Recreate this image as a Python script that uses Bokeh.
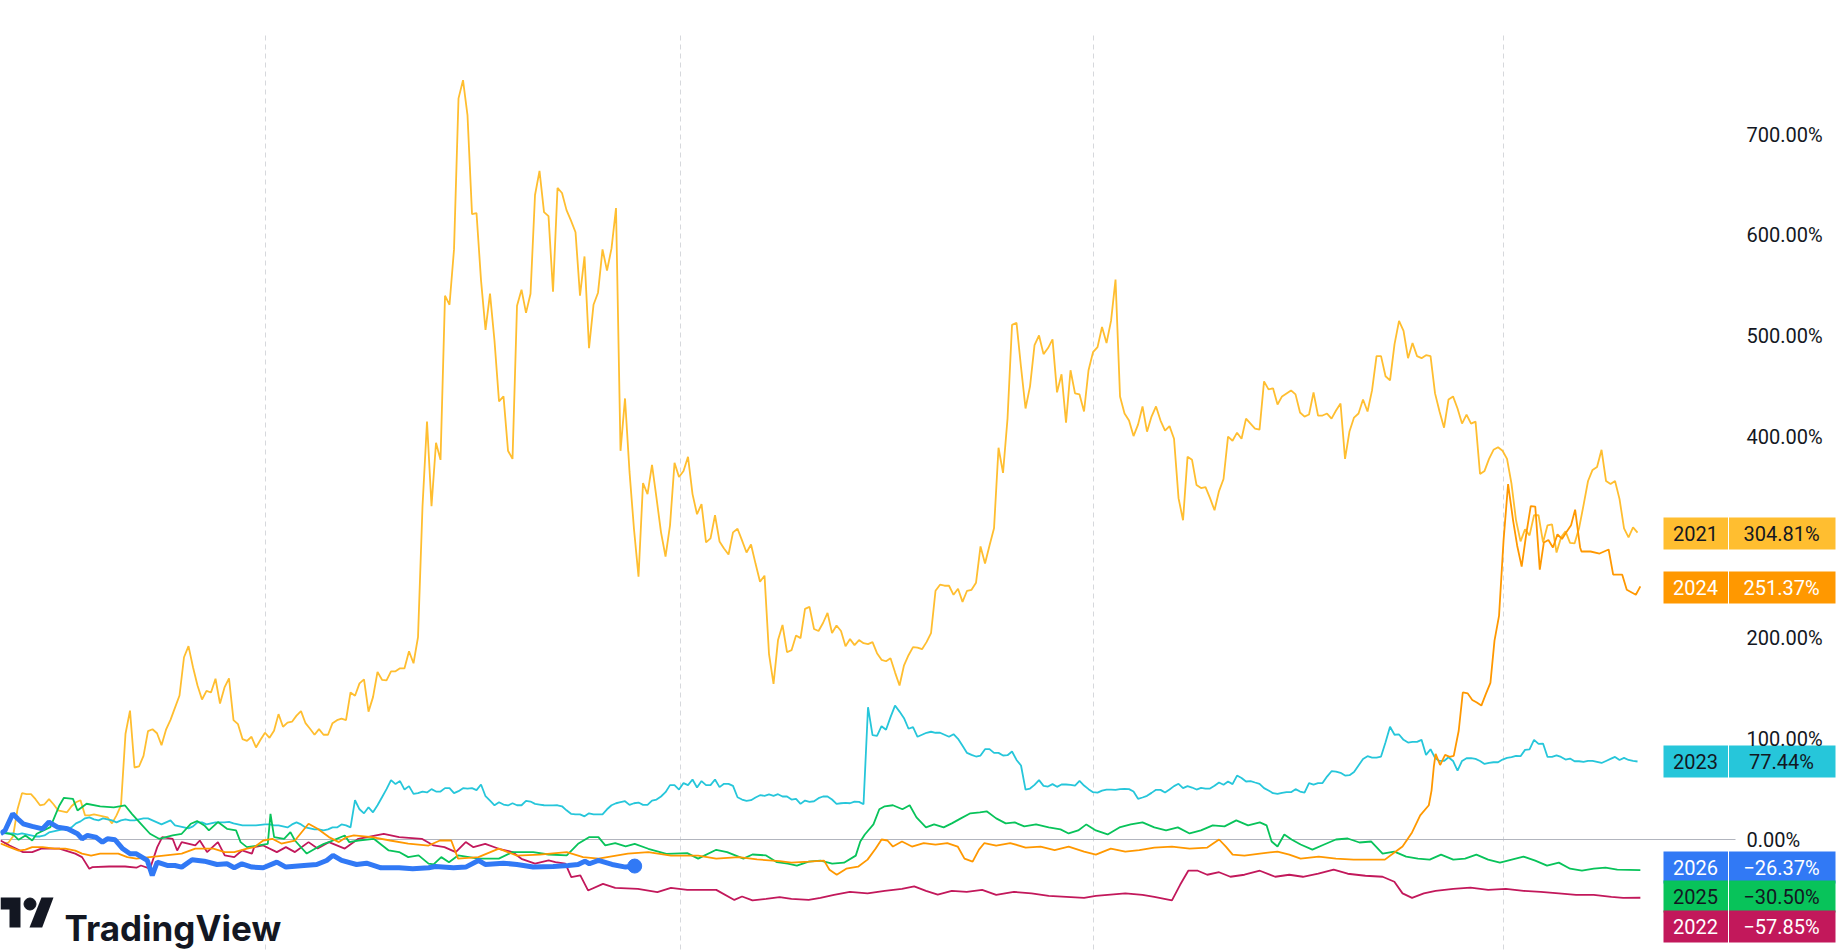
from bokeh.core.properties import value
from bokeh.embed import file_html
from bokeh.models import FixedTicker, PrintfTickFormatter, Range1d
from bokeh.plotting import figure
from bokeh.resources import INLINE
import numpy as np

# values, percent change per year
vals_2021 = [-4, -3, 3, 30, 46, 45, 45, 40, 34, 35, 40, 35, 29, 28, 27, 33, 37, 39, 24, 24,
             25, 24, 23, 22, 16, 24, 34, 105, 128, 71.5, 72.5, 83, 107.6, 109.5, 105.5, 93.7, 109, 118.8, 131, 143,
             181, 192, 171, 153, 139, 147.6, 146, 159.6, 135, 151, 160, 118.5, 114.5, 99.7, 98, 102, 91.4, 99, 106, 101,
             108, 124.5, 112, 116, 117, 123, 127.5, 115.5, 110, 104, 109.6, 104, 104, 115.5, 118.5, 120, 118.5, 146, 142.7, 155,
             159, 127, 141.4, 166.5, 158.6, 158, 167, 167, 170, 170, 187, 175, 201,
             331, 415, 331, 394, 377, 540, 531, 586, 736, 754, 719, 621, 622, 555.5, 506, 542, 495, 435, 440, 386, 378,
             530, 546, 523, 542, 640, 664, 623, 619, 544, 647, 642, 625, 614.5, 603, 540, 579, 488, 531, 543, 586, 565, 587, 627,
             386, 438, 365, 308, 261, 354, 343, 372, 339, 305, 281, 312, 374, 360, 366, 380, 343, 323,
             333, 295, 299, 322, 296, 289, 283, 305, 308.6, 297, 285, 293, 274, 256, 262,
             184, 154.6, 198, 213, 186, 188, 202.5, 200, 229, 231, 209, 207, 215, 225, 205, 212.5, 207, 192, 199, 193,
             198, 195, 194, 196, 185, 178.4, 177, 180, 166, 153, 173, 183, 191, 190.6, 189, 196, 205,
             247, 253, 252, 252, 243, 249, 236, 247, 248, 255, 291, 274, 292, 309, 389, 364, 418, 511, 513, 469,
             428, 450, 491, 500.5, 482, 488, 496.6, 444, 462, 414, 466, 443, 442, 425, 466, 484, 489, 509, 493, 515,
             556, 440, 423, 416, 400.6, 412, 430, 405, 420, 430, 416, 406, 410.5, 398, 339, 317, 380, 377, 352, 349,
             350, 339, 327, 346, 358, 400, 396, 404, 398, 418, 413, 408, 407, 455, 447, 448, 432, 440, 443, 446,
             442, 424, 420, 422, 444, 421, 421, 423, 418, 426, 433, 378, 405.5, 419, 423, 437, 425, 446, 480, 480,
             460, 456, 492, 515, 505, 478, 493, 480, 478, 481, 480, 443, 425, 409, 437, 440, 428, 413, 422, 413, 415,
             363, 366, 378, 387, 389.5, 386, 378, 353, 317, 296, 308, 302, 322, 322, 295, 312, 313, 285, 300, 306, 294.5, 294, 309,
             332, 356, 367, 370, 387, 356, 353, 356, 338, 309, 300, 310, 304.81]

vals_2023 = [6, 6, 6, 5, 6, 5, 4, 3, 3, 4, 7, 8, 9, 10, 11, 12, 16, 18, 21, 22,
             20, 19, 21, 20, 19, 17, 19, 20, 19, 19, 20, 21, 21, 19, 17, 15, 17, 19, 14, 13,
             12, 11, 13, 17, 17, 15, 16, 17, 17, 17, 17.5, 16, 15, 14, 14, 14, 14, 14.5, 15, 15,
             14, 14, 13, 12, 15, 17, 15, 12, 11, 10, 10, 9, 10, 12, 12, 15, 14, 12,
             39, 30, 26, 32, 27, 34, 42, 50, 59, 55, 58, 49.6, 53, 45.3, 46, 47.6, 46.7, 50, 47.6, 47.6,
             51, 51, 46, 48, 51, 50.6, 51, 49, 54.6, 43, 38.7, 34, 37, 34.7, 33.8, 36, 34, 34, 38.4, 37.7,
             35.4, 34.7, 34, 33.8, 33.8, 34, 33, 29, 25.5, 25, 25, 23, 26, 25, 25, 25, 30, 34, 36, 37,
             38, 34.4, 36, 36.7, 34.4, 34.4, 38.7, 39.7, 42.7, 47, 54, 54, 49.6, 56, 54, 59.6, 51.6, 58, 54, 54,
             59.6, 52, 55.3, 55.3, 53.3, 42, 39.7, 38.4, 39, 41.7, 44, 43.4, 44.7, 43.4, 45, 42.7, 42.7, 39.7, 40.4, 35.4,
             38.7, 37.4, 38, 41, 42.7, 42.7, 39.7, 35.4, 36, 36.4, 36, 37.7, 37.4, 35,
             131.4, 103.6, 103, 112.5, 109, 121.5, 133, 127, 120.5, 110, 111.5, 102, 104, 106, 107, 106, 106, 104, 102, 104.6,
             100, 93, 86, 84, 82.4, 83.4, 89.7, 89.7, 86, 86, 83.4, 83.7, 87.4, 79, 73.5,
             49.6, 50.6, 54.3, 59, 53.3, 52.6, 55, 52.3, 54.6, 54.6, 54.3, 53.6, 58.2, 53.6, 50, 47, 46.6, 48.6, 49.6, 49.6,
             49.3, 50, 50.3, 50, 47.6, 40.4, 41.7, 43.4, 46.3, 49.3, 49.3, 46.6,
             49.6, 53, 55.3, 51, 53, 51.6, 49.6, 51.3, 50.6, 50.6, 53.3, 56.6, 54.3, 57.6, 55, 63.5, 61, 57.6, 58, 56.6,
             55.3, 51, 48.6, 46, 45.3, 46.3, 47, 47, 50, 47.6, 46.6, 56, 54.6, 56, 56, 62.5, 67.8, 67.5, 66.2, 63.5,
             63.9, 67, 73.5, 80, 82.7, 81.4, 81.4, 82.4, 96.6, 112, 104, 104.3, 99, 96.3, 97, 97, 99, 84, 89.6, 81,
             78, 78, 81.7, 78, 68.5, 78, 80.7, 80.7, 80, 78, 75, 76, 76.7, 76.7, 79.4, 81, 81.7, 83, 82.7, 89,
             89.6, 99, 95, 95.3, 82, 82, 83.6, 82, 79.4, 80.4, 77.7, 77.7, 77, 78, 78, 77, 76, 78, 80, 82, 79, 81, 79, 78, 77.44]

# these run along the bottom and were read at the corners of the line only
days_2024 = [0, 2, 4, 5.5, 7, 9.3, 12, 14.3, 16.5, 18, 20, 22, 26, 28, 30, 33, 36, 40, 43, 47,
             49.5, 51.6, 54.4, 56, 58, 60, 62, 65, 68, 70, 72.5, 74.7, 76.4, 78, 82, 86, 90, 94.5, 97, 99.5,
             101, 105.5, 110, 114, 119, 125, 128.6, 132, 138.5, 143, 148, 154, 158, 163, 167, 172,
             174.6, 178.4, 181.8, 183, 184.6, 186.7, 189.3, 191.4, 193.2, 194.5, 195.8, 197, 199, 201.2, 203.8, 206.4, 209, 211.3, 212.8, 214.6,
             216, 217.2, 219.8, 222.9, 226.3, 229.6, 232.7, 235.8, 239.2, 241.8, 245.1, 248.3, 251.4, 254.7, 258.6, 262.5, 266.4, 269, 270.5, 272,
             274.6, 278, 281.9, 284.5, 287, 291, 294.8, 298.7, 302.6, 305.6, 307.7, 309.5, 311.6, 313.4,
             315.3, 315.9, 316.4, 316.8, 317.8, 318.9, 319.9, 320.8, 321.9, 322.8, 323.9, 324.9, 325.9,
             326.9, 327.9, 328.9, 329.8, 330.8, 331.8, 332.8, 333.9, 334.8, 335.8, 336.8, 337.8, 338.8, 339.8, 340.7, 341.7, 342.7, 343.7, 344.7, 345.8,
             346.7, 347.6, 348.7, 349, 351, 353, 355, 356, 358, 359, 361, 362]
vals_2024 = [-4, -7.6, -11, -10, -7.6, -7.6, -9, -9, -11, -14, -16, -14, -14, -17.5, -19, -17.5, -16, -14, -9, -9,
             -12.5, -12.5, -9, -7.6, -1, 0.7, -4, -1, 15.6, 10.6, 2.4, -2.6, 2.4, 4, 2.4, -1, -4, -6, -1, -1,
             -19, -17.5, -9, -16, -15, -12.5, -17.5, -19, -14, -12.5, -16, -16, -19, -17.5, -19.8, -21.5,
             -23, -22, -21, -30, -35, -29, -27, -20, -9, 0, -1, -7, -2, -7, -3.5, -5, -3.5, -7, -19, -22,
             -10, -3.5, -6, -3.5, -8, -7, -10.5, -7, -12, -15, -9, -12, -10.5, -8, -7, -9, -8, 0, -7, -15,
             -16, -14, -12, -15, -19, -17, -19, -20, -20, -20, -13, -7, 7, 24,
             34, 48.6, 72, 85, 74, 84, 82, 83, 108, 146, 145, 138.6, 136,
             133, 144.6, 155.5, 197.5, 222, 297, 353, 317, 292, 271, 303, 331, 330.6, 268, 295, 297.5, 290, 303, 298.5, 306,
             312, 327.6, 290, 286, 286, 284, 288, 263, 263, 248, 243, 251.37]

days_2025 = [0, 2, 3, 4, 5.5, 7, 8, 11, 13, 14, 16, 17, 19, 22, 25, 27.5, 29, 31, 33, 35,
             38, 40, 42, 43.4, 45, 46, 48, 50, 52, 53, 54.4, 57, 59, 59.6, 60.4, 62.6, 64, 65, 67.6, 70,
             71.4, 72.5, 76, 77, 79, 82.4, 85.7, 88, 90, 92.3, 94.5, 95.6, 97.3, 99, 101, 105.5, 110, 113, 117.6, 121,
             125, 127.5, 130, 132, 133.5, 135.7, 138, 140, 143, 147, 151.6, 154, 158, 160.4, 164, 166, 169, 171.4,
             173.8, 175.8, 178.4, 181, 183.6, 186.2, 188.8, 189.8, 190.8, 192.7, 194, 195.2, 197, 199.1, 200.7, 202.2, 204.3, 206.1, 208.2, 210,
             212, 214.1, 216.2, 217.7, 219.8, 221.9, 223.9, 226, 228.6, 231.4, 234, 235.8, 237.9, 239.7, 241.8, 244.4, 247, 249.5, 252.1, 254.7,
             257.3, 259.9, 262.5, 265, 267.6, 270.2, 272.8, 275.4, 278, 279.5, 280.6, 281.9, 283.4, 285, 287, 289.6, 292.2, 294.8, 297.4, 300,
             302.6, 305.1, 307.7, 310.3, 312.9, 315.5, 318, 320.7, 323.3, 325.8, 328.4, 331, 333.6, 336.2, 338.8, 341.4, 344, 346.5, 349.1, 351.7,
             354.3, 356.9, 362]
vals_2025 = [7.3, 5.7, 4, -0.3, 4, -0.9, 5.7, 12.3, 33.8, 41.4, 40.4, 28.8, 35.5, 32.8, 32, 33.8, 25.5, 15.6, 5.7, 0.7,
             4, 5.7, 15.6, 18.3, 14, 9, 17.3, 10.6, 9, -2.6, -7.6, -5.9, -4.3, 25.5, 2.4, 0.7, 7.3, -1, -14, -7.6,
             -4.3, -2.6, 4, -2.6, -1, 0.7, -10.9, -12.5, -17.5, -15.8, -24, -24.8, -17.5, -22.5, -15.8, -19, -19, -12.5, -12.5, -14.9,
             -15.8, -4.3, 2.4, 2.4, -5.9, -3.6, -6.9, -4.3, -9.2, -14.2, -13.5, -19, -10.2, -12.5, -19, -14.9, -15.8, -22.5,
             -24, -26, -22, -21, -24, -23, -16, -2, 5, 15, 30, 33, 34, 30, 34, 22, 12, 15, 12, 16,
             21, 26, 27, 28, 21, 16, 17, 13, 15, 12, 10, 6, 9, 15, 9, 5, 12, 15, 17, 12,
             9, 12, 6, 9, 14, 13, 19, 14, 17, 14, -2, -7, 5, 0, -5, -10, -5, 0, 1, -3,
             -2, -14, -12, -17, -19, -20, -15, -20, -19, -15, -20, -23, -20, -17, -21, -26, -23, -29, -31, -29,
             -28, -30, -30.5]

days_2022 = [0, 2, 5, 7, 9, 13, 16.5, 18, 19.6, 20.3, 24, 27.5, 30, 31, 33, 34.6, 35.7, 38, 39, 40,
             43, 44, 45.6, 48, 49.5, 51.6, 53.3, 55.5, 56, 58, 61, 63, 65, 68, 70, 72.5, 76, 79, 84.6, 88,
             93, 95.6, 98, 100.5, 102.7, 104.4, 107, 110, 113, 115, 118, 121, 122.5, 124.7, 126, 128, 129.7, 133, 135.7, 140.7,
             145, 148, 151.6, 158, 162, 163.7, 166, 169, 172,
             174.6, 178.4, 181, 184, 187.5, 191.4, 195.2, 199, 201.7, 204.3, 206.9, 210, 213.3, 216.7, 219.8, 223.7, 227.6, 231.4, 235.3, 239.2,
             241.8, 244.4, 248.3, 252.1, 254.7, 258.6, 260.4, 262.2, 264.3, 266.4, 269, 271.5, 274.6, 278, 281.4, 284.5, 287.5, 290.9, 294.3, 297.4,
             301.3, 305.1, 307.7, 309.5, 311.6, 314.2, 316.8, 320.7, 324.5, 328.4, 332.3, 336.2, 340, 344, 347.8, 351.7, 355.6, 358.2, 362]
vals_2022 = [-1, -6, -12.5, -12.5, -9, -9, -14, -17.5, -29, -27.4, -26.8, -26.8, -28, -25.8, -29, -7.6, 2.4, 0.7, -10.9, -2.6,
             -5.9, -1, -12.5, -2.6, -15.8, -17.5, -10.9, -14, -7.6, -5.9, -12.5, -7.6, -12.5, -2.6, -9, -2.6, -9, 0.7, 5.7, 2.4,
             0.7, -5.9, -7.6, -12.5, -2.6, -7.6, -4.3, -9.2, -12.5, -19.2, -24, -20.8, -22.5, -24, -37.4, -35.7, -50.6, -44, -48, -49,
             -52.3, -48, -50, -50, -60, -56.6, -60.5, -58.9, -57.2,
             -59, -60, -58, -55, -52, -53.5, -51, -49, -46.5, -51, -54.7, -51, -52, -50, -55, -52, -53.5, -56, -57, -58,
             -56, -55, -53.5, -55, -57, -60.5, -45, -31, -31, -35, -32.5, -37, -35, -31, -37, -35, -37, -34, -30, -34,
             -36, -37, -42, -53.5, -58, -53.5, -51, -49, -47.7, -50, -49, -51, -52, -53.5, -55, -55, -57, -58, -57.85]

days_2026 = [0, 1, 2.7, 3.8, 5, 7, 9.3, 10.7, 12.6, 14.8, 17, 18, 19.2, 21, 22.5, 23.6, 25.3, 27, 28.6, 30,
             32.4, 33.5, 34.6, 36.8, 38.5, 40, 42.3, 45, 47.8, 50, 51.6, 53.3, 55.5, 58, 61, 63, 67, 69.8, 72, 73.4,
             75.3, 78.6, 80.8, 84, 88, 91, 94.5, 96, 100, 102.7, 105.5, 107, 111, 114, 117.6, 122, 125.3, 127.5, 129, 130,
             132, 135, 138, 140]
vals_2026 = [5.7, 9, 25.5, 20.6, 15.6, 13, 10.6, 17.3, 12.3, 10.6, 5.7, 0.7, 4, 2.4, -2.6, 0.7, -0.3, -9.2, -14.2, -14.2,
             -20.8, -35.7, -22.5, -25.8, -25.8, -27.4, -20.1, -21.5, -24.8, -24.1, -28, -24.1, -27.4, -28.1, -22.5, -27.4, -25.8, -24.8, -20.8, -15.8,
             -20.8, -24.8, -23.5, -28.1, -28.1, -29, -28.1, -26.8, -28.1, -27.4, -20.8, -24.8, -23.5, -24.8, -27.4, -26.8, -25.8, -24.8, -21.5, -24.1,
             -20.8, -24.8, -27.4, -26.37]

y_ticks = [0, 100, 200, 400, 500, 600, 700]

label_names = ["2021", "2024", "2023", "2026", "2025", "2022"]
label_vals = ["304.81%", "251.37%", "77.44%", "\u221226.37%", "\u221230.50%", "\u221257.85%"]
label_colors = ["#FFBE30", "#FF9800", "#26C6DA", "#3179F5", "#08C35A", "#C2185B"]
label_text = ["#131722", "#ffffff", "#131722", "#ffffff", "#131722", "#ffffff"]
label_px = [533, 587, 761, 867, 896, 926]


# the picture was measured in pixels, these two bring a pixel into data space
def px_x(x):
    return x / 4.53


def px_y(y):
    return (839 - y) / 1.007


p = figure(
    width=1837, height=950,
    x_range=Range1d(px_x(0), px_x(1837)),
    y_range=Range1d(px_y(950), px_y(0)),
    output_backend="svg", toolbar_location=None,
    y_axis_location="right", min_border=0, outline_line_color=None,
)
p.xaxis.visible = False
p.grid.visible = False

yaxis = p.yaxis[0]
yaxis.ticker = FixedTicker(ticks=y_ticks)
yaxis.formatter = PrintfTickFormatter(format="%.2f%%")
yaxis.axis_line_color = None
yaxis.major_tick_line_color = None
yaxis.minor_tick_line_color = None
yaxis.major_tick_out = 0
yaxis.major_label_standoff = -91
yaxis.major_label_text_font = "Roboto"
yaxis.major_label_text_font_size = "20px"
yaxis.major_label_text_color = "#131722"

# dashed quarter lines and the zero line
for gx in [265, 680, 1093, 1503]:
    p.line([px_x(gx), px_x(gx)], [px_y(35), px_y(950)], line_color="#d6d8dc", line_width=1, line_dash="5 4")
p.line([px_x(0), px_x(1735)], [0, 0], line_color="#b2b5be", line_width=1)

# one bar of the two daily series is a bit under a day of the x scale
days_2021 = 0.773 + 0.9934 * np.arange(len(vals_2021))
days_2023 = 0.773 + 0.9934 * np.arange(len(vals_2023))

p.line(days_2021, vals_2021, line_color="#FFBE30", line_width=1.8)
p.line(days_2023, vals_2023, line_color="#26C6DA", line_width=1.8)
p.line(days_2022, vals_2022, line_color="#C2185B", line_width=1.8)
p.line(days_2025, vals_2025, line_color="#08C35A", line_width=1.8)
p.line(days_2024, vals_2024, line_color="#FF9800", line_width=1.8)
p.line(days_2026, vals_2026, line_color="#3179F5", line_width=5)
p.scatter([days_2026[-1]], [vals_2026[-1]], size=14, color="#3179F5")

# price labels on the right
tops = [px_y(y - 16) for y in label_px]
bots = [px_y(y + 16) for y in label_px]
mids = [px_y(y) for y in label_px]
p.quad(left=px_x(1663), right=px_x(1727.5), top=tops, bottom=bots, color=label_colors, line_color=None)
p.quad(left=px_x(1728.5), right=px_x(1835), top=tops, bottom=bots, color=label_colors, line_color=None)
p.text([px_x(1695)] * 6, mids, text=label_names, text_align="center", text_baseline="middle",
       text_font=value("Roboto"), text_font_size="20px", text_color=label_text)
p.text([px_x(1781)] * 6, mids, text=label_vals, text_align="center", text_baseline="middle",
       text_font=value("Roboto"), text_font_size="20px", text_color=label_text)

# TradingView mark, lower left
logo_xs = [[px_x(v) for v in (0, 20, 20, 9, 9, 0)], [px_x(v) for v in (29, 41.7, 53, 41)]]
logo_ys = [[px_y(v) for v in (897, 897, 927, 927, 909, 909)], [px_y(v) for v in (927, 927, 897, 897)]]
p.patches(logo_xs, logo_ys, color="#131722", line_color=None)
p.scatter([px_x(29.5)], [px_y(903.5)], size=12, color="#131722")
p.text([px_x(64)], [px_y(927)], text=["TradingView"], text_baseline="alphabetic",
       text_font=value("Inter"), text_font_size="35px", text_font_style="bold", text_color="#131722")

open("out.html", "w").write(file_html(p, INLINE))
